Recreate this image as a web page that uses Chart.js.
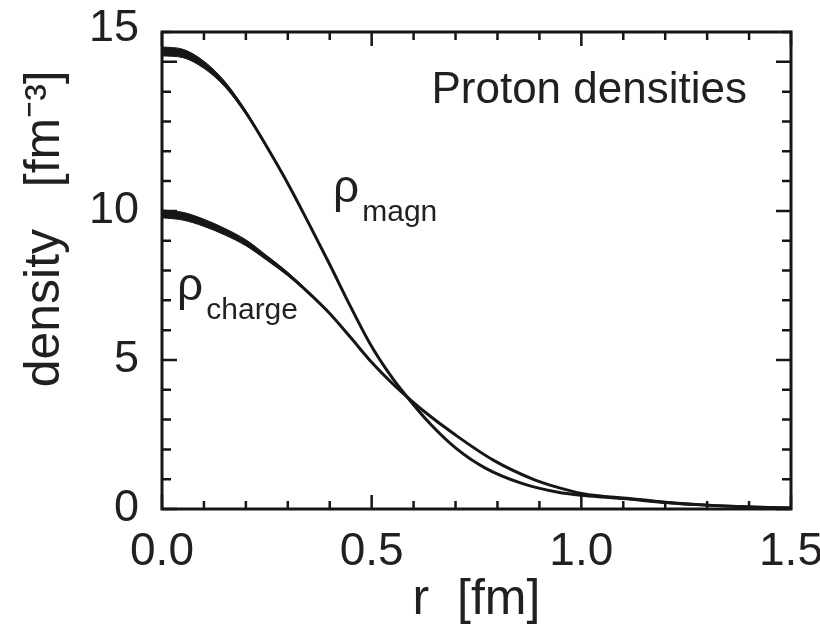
<!DOCTYPE html>
<html>
<head>
<meta charset="utf-8">
<script src="https://cdn.jsdelivr.net/npm/chart.js@4/dist/chart.umd.min.js"></script>
<style>
  html, body { margin: 0; padding: 0; background: #ffffff; }
  #wrap { width: 820px; height: 636px; }
</style>
</head>
<body>
<div id="wrap"><canvas id="c" width="820" height="636"></canvas></div>
<script>
// Radial proton densities, r in fm, density in fm^-3
const rMagn   = [0, 0.05, 0.1, 0.15, 0.2, 0.25, 0.3, 0.35, 0.4, 0.45, 0.5, 0.55, 0.585, 0.64, 0.7, 0.77, 0.86, 0.945, 1.0, 1.05, 1.1, 1.2, 1.3, 1.4, 1.5];
const rhoMagn = [15.35, 15.28, 14.9, 14.25, 13.3, 12.15, 10.92, 9.58, 8.2, 6.78, 5.45, 4.38, 3.75, 2.85, 2.05, 1.38, 0.85, 0.56, 0.46, 0.4, 0.35, 0.22, 0.13, 0.07, 0.03];

const rCharge   = [0, 0.05, 0.1, 0.15, 0.2, 0.25, 0.3, 0.35, 0.4, 0.45, 0.5, 0.55, 0.585, 0.62, 0.7, 0.79, 0.89, 0.95, 1.0, 1.05, 1.1, 1.2, 1.3, 1.4, 1.5];
const rhoCharge = [9.9, 9.82, 9.6, 9.3, 8.93, 8.42, 7.88, 7.25, 6.56, 5.75, 4.92, 4.2, 3.75, 3.33, 2.48, 1.64, 0.97, 0.7, 0.52, 0.43, 0.37, 0.23, 0.13, 0.07, 0.03];

// Uncertainty bands near the centre
const rBandMagn  = [0, 0.05, 0.1, 0.15, 0.2, 0.25, 0.3];
const magnHigh   = [15.5, 15.42, 15.02, 14.34, 13.36, 12.18, 10.93];
const magnLow    = [15.2, 15.14, 14.78, 14.16, 13.24, 12.12, 10.91];

const rBandCharge = [0, 0.05, 0.1, 0.15, 0.2, 0.25, 0.3, 0.35, 0.4];
const chargeHigh  = [10.03, 9.95, 9.72, 9.41, 9.03, 8.5, 7.94, 7.29, 6.57];
const chargeLow   = [9.77, 9.69, 9.48, 9.19, 8.83, 8.34, 7.82, 7.21, 6.55];

// Axis tick labels
const xTickLabels = ['0.0', '0.5', '1.0', '1.5'];
const yTickLabels = ['0', '5', '10', '15'];

// Text placed inside the plot (data coordinates)
const plotTitle = { text: 'Proton densities', r: 1.395, rho: 13.62 };
const curveLabels = [
  { sub: 'magn',   r: 0.408, rho: 10.3 },
  { sub: 'charge', r: 0.036, rho: 7.02 }
];

const ink = '#161615';
const textInk = '#231f20';
const FONT = "'Liberation Sans', Arial, Helvetica, sans-serif";

function pts(xs, ys) { return xs.map((x, i) => ({ x: x, y: ys[i] })); }
function isMult(v, step) { const q = v / step; return Math.abs(q - Math.round(q)) < 1e-6; }

// Frame with inward ticks on all four sides
const frameTicks = {
  id: 'frameTicks',
  afterDatasetsDraw(chart) {
    const { ctx, chartArea: a, scales: { x, y } } = chart;
    ctx.save();
    ctx.strokeStyle = ink;
    ctx.lineWidth = 2.5;
    ctx.beginPath();
    x.ticks.forEach(t => {
      const px = x.getPixelForValue(t.value);
      const len = isMult(t.value, 0.5) ? 14 : 8;
      ctx.moveTo(px, a.bottom); ctx.lineTo(px, a.bottom - len);
      ctx.moveTo(px, a.top);    ctx.lineTo(px, a.top + len);
    });
    y.ticks.forEach(t => {
      const py = y.getPixelForValue(t.value);
      const len = isMult(t.value, 5) ? 15 : 9;
      ctx.moveTo(a.left, py);  ctx.lineTo(a.left + len, py);
      ctx.moveTo(a.right, py); ctx.lineTo(a.right - len, py);
    });
    ctx.stroke();
    ctx.lineWidth = 3;
    ctx.strokeRect(a.left, a.top, a.right - a.left, a.bottom - a.top);
    ctx.restore();
  }
};

// Plot title and curve labels
const plotText = {
  id: 'plotText',
  afterDraw(chart) {
    const { ctx, scales: { x, y } } = chart;
    ctx.save();
    ctx.fillStyle = textInk;
    ctx.textBaseline = 'alphabetic';
    ctx.textAlign = 'right';
    ctx.font = '44px ' + FONT;
    ctx.fillText(plotTitle.text, x.getPixelForValue(plotTitle.r), y.getPixelForValue(plotTitle.rho));
    ctx.textAlign = 'left';
    curveLabels.forEach(l => {
      const px = x.getPixelForValue(l.r);
      const py = y.getPixelForValue(l.rho);
      ctx.font = '46px ' + FONT;
      ctx.fillText('\u03C1', px, py);
      const w = ctx.measureText('\u03C1').width;
      ctx.font = '30px ' + FONT;
      ctx.fillText(l.sub, px + w + 3, py + 19);
    });
    ctx.restore();
  }
};

const lineStyle = { borderColor: ink, borderWidth: 3, pointRadius: 0, fill: false, cubicInterpolationMode: 'monotone' };
const bandEdge  = { borderColor: ink, borderWidth: 1, pointRadius: 0, cubicInterpolationMode: 'monotone', backgroundColor: ink };

new Chart(document.getElementById('c'), {
  type: 'line',
  data: {
    datasets: [
      Object.assign({ label: 'magn high', data: pts(rBandMagn, magnHigh), fill: false }, bandEdge),
      Object.assign({ label: 'magn low',  data: pts(rBandMagn, magnLow),  fill: '-1' }, bandEdge),
      Object.assign({ label: 'charge high', data: pts(rBandCharge, chargeHigh), fill: false }, bandEdge),
      Object.assign({ label: 'charge low',  data: pts(rBandCharge, chargeLow),  fill: '-1' }, bandEdge),
      Object.assign({ label: 'rho magn',   data: pts(rMagn, rhoMagn) }, lineStyle),
      Object.assign({ label: 'rho charge', data: pts(rCharge, rhoCharge) }, lineStyle)
    ]
  },
  options: {
    responsive: false,
    animation: false,
    events: [],
    layout: { padding: { top: 32, right: 29, left: 0, bottom: 0 } },
    plugins: { legend: { display: false }, tooltip: { enabled: false } },
    scales: {
      x: {
        type: 'linear', min: 0, max: 1.5,
        grid: { display: false }, border: { display: false },
        ticks: {
          stepSize: 0.1, autoSkip: false, maxRotation: 0, minRotation: 0,
          color: textInk, padding: 8,
          font: { family: FONT, size: 46 },
          callback: v => isMult(v, 0.5) ? xTickLabels[Math.round(v / 0.5)] : ''
        },
        title: {
          display: true, text: 'r  [fm]', color: textInk,
          font: { family: FONT, size: 50 }, padding: { top: 6, bottom: 6 }
        },
        afterFit(s) { s.height = 127; s.paddingLeft = 0; s.paddingRight = 0; }
      },
      y: {
        type: 'linear', min: 0, max: 16,
        grid: { display: false }, border: { display: false },
        ticks: {
          stepSize: 1, autoSkip: false,
          color: textInk, padding: 15,
          font: { family: FONT, size: 45, lineHeight: 1.47 },
          callback: v => {
            if (!isMult(v, 5)) return '';
            const s = yTickLabels[Math.round(v / 5)];
            return v === 15 ? [s, ''] : s;
          }
        },
        title: {
          display: true, text: '      density   [fm\u207B\u00B3]', color: textInk,
          font: { family: FONT, size: 50 }, padding: { top: 15, bottom: 0 }
        },
        afterFit(s) { s.width = 162; s.paddingTop = 0; s.paddingBottom = 0; }
      }
    }
  },
  plugins: [frameTicks, plotText]
});
</script>
</body>
</html>
